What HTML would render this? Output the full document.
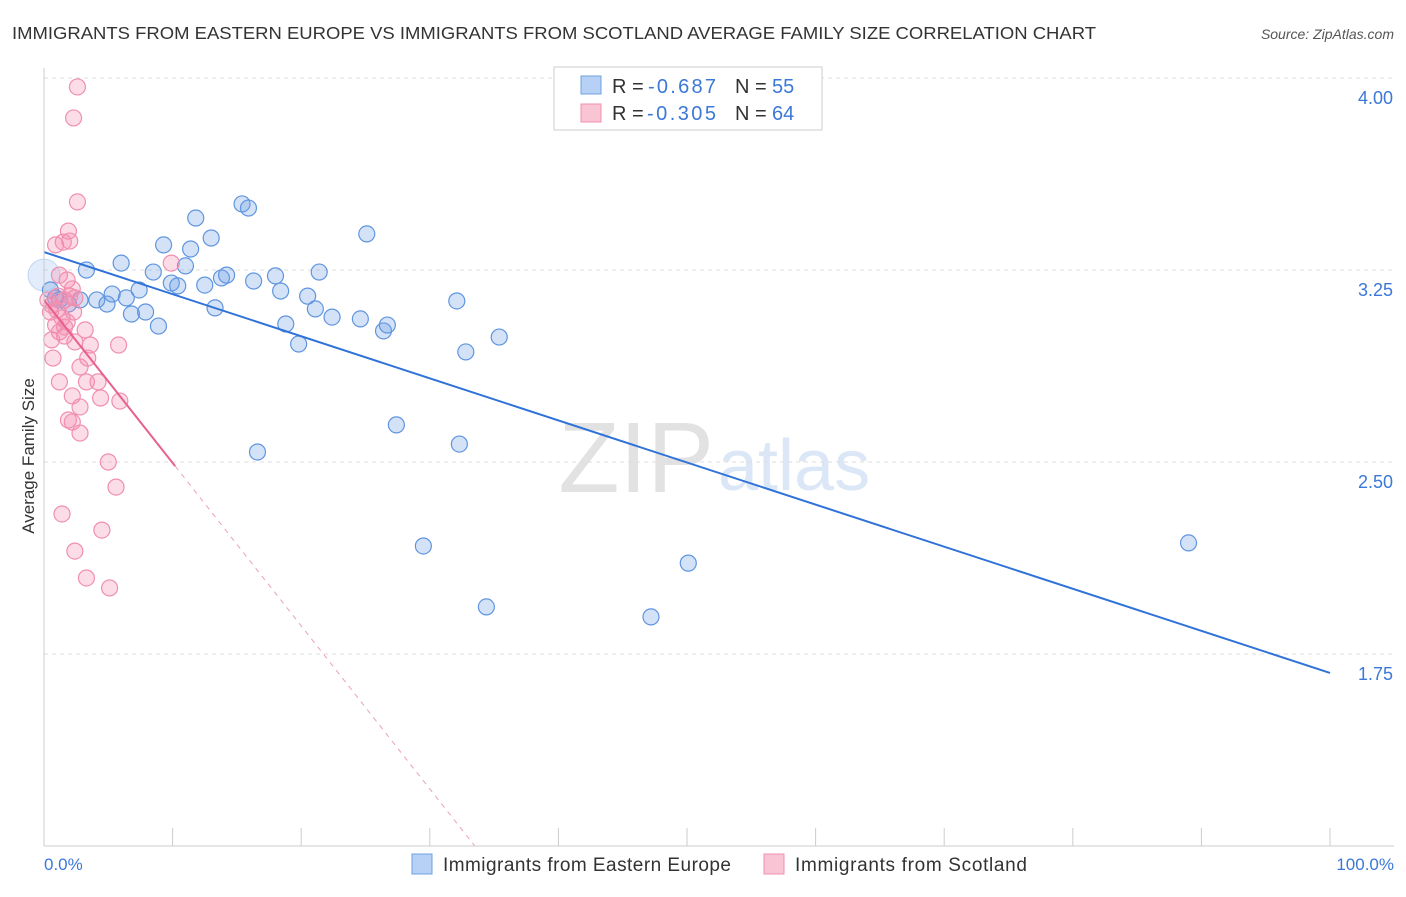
<!DOCTYPE html>
<html><head><meta charset="utf-8"><style>
body{margin:0;background:#fff;font-family:"Liberation Sans",sans-serif;}
svg text{font-family:"Liberation Sans",sans-serif;}
</style></head><body>
<svg id="c" width="1406" height="892">
<text x="12" y="39" font-size="17.5" fill="#333" textLength="1084" lengthAdjust="spacingAndGlyphs">IMMIGRANTS FROM EASTERN EUROPE VS IMMIGRANTS FROM SCOTLAND AVERAGE FAMILY SIZE CORRELATION CHART</text>
<text x="1394" y="39" font-size="14" fill="#555" font-style="italic" text-anchor="end">Source: ZipAtlas.com</text>
<text x="34" y="456" font-size="17" fill="#333" text-anchor="middle" transform="rotate(-90 34 456)">Average Family Size</text>
<text x="714" y="492" font-size="100" fill="#e2e2e2" text-anchor="end" font-family="Liberation Serif">ZIP</text>
<text x="718" y="490" font-size="72" fill="#dbe7f6">atlas</text>
<g id="grid"></g><g id="pts"></g><g id="lines"></g>
<line x1="44" y1="68" x2="44" y2="846" stroke="#ccc"/>
<line x1="44" y1="846" x2="1394" y2="846" stroke="#ccc"/>
<text x="44" y="870" font-size="17" fill="#3b78d8">0.0%</text>
<text x="1394" y="870" font-size="17" fill="#3b78d8" text-anchor="end">100.0%</text>
<g>
<rect x="554" y="67" width="268" height="63" fill="#fff" stroke="#ccc"/>
<rect x="581" y="76" width="20" height="18" fill="#b7d0f5" stroke="#6fa0e0"/>
<rect x="581" y="104" width="20" height="18" fill="#f9c5d5" stroke="#f08fb0"/>
<text x="612" y="93" font-size="20" fill="#333">R =</text>
<text x="648" y="93" font-size="20" fill="#3b78d8" textLength="68">-0.687</text>
<text x="735" y="93" font-size="20" fill="#333">N =</text>
<text x="772" y="93" font-size="20" fill="#3b78d8">55</text>
<text x="612" y="120" font-size="20" fill="#333">R =</text>
<text x="647" y="120" font-size="20" fill="#3b78d8" textLength="69">-0.305</text>
<text x="735" y="120" font-size="20" fill="#333">N =</text>
<text x="772" y="120" font-size="20" fill="#3b78d8">64</text>
</g>
<g>
<rect x="412" y="854" width="20" height="20" fill="#b7d0f5" stroke="#6fa0e0"/>
<text x="443" y="871" font-size="19" fill="#333" textLength="288">Immigrants from Eastern Europe</text>
<rect x="764" y="854" width="20" height="20" fill="#f9c5d5" stroke="#f08fb0"/>
<text x="795" y="871" font-size="19" fill="#333" textLength="232">Immigrants from Scotland</text>
</g>
</svg>
<script>
const yTicks=[4.00,3.25,2.50,1.75];
const blueX=[0.5,0.9,1.2,1.9,2.8,3.3,4.1,4.9,5.3,6.0,6.4,6.8,7.4,7.9,8.5,8.9,9.3,9.9,10.4,11.0,11.4,11.8,12.5,13.0,13.3,13.8,14.2,15.4,15.9,16.3,16.6,18.0,18.4,18.8,19.8,20.5,21.1,21.4,22.4,24.6,25.1,26.4,26.7,27.4,29.5,32.1,32.3,32.8,34.4,35.4,47.2,50.1,89.0];
const blueY=[3.172,3.141,3.133,3.117,3.133,3.25,3.133,3.117,3.156,3.277,3.141,3.078,3.172,3.086,3.242,3.031,3.348,3.199,3.188,3.266,3.332,3.453,3.191,3.375,3.102,3.219,3.230,3.508,3.492,3.207,2.539,3.227,3.168,3.039,2.961,3.148,3.098,3.242,3.066,3.059,3.391,3.012,3.035,2.645,2.172,3.129,2.570,2.930,1.934,2.988,1.895,2.105,2.184];
const pinkX=[2.6,2.3,2.6,1.9,2.0,1.5,0.9,9.9,1.8,1.2,2.2,2.4,0.6,1.0,1.4,1.8,0.5,0.9,1.2,0.6,1.6,2.4,3.2,3.4,5.8,0.7,2.8,1.2,3.3,4.2,2.2,4.4,5.9,2.8,1.9,2.2,2.8,5.0,5.6,1.4,4.5,2.4,3.3,5.1,0.3,1.1,1.6,2.0,2.3,3.6,1.6];
const pinkY=[3.965,3.844,3.516,3.402,3.363,3.359,3.348,3.277,3.211,3.230,3.176,3.141,3.113,3.094,3.063,3.047,3.086,3.035,3.008,2.977,2.992,2.969,3.016,2.906,2.957,2.906,2.871,2.813,2.813,2.813,2.758,2.750,2.738,2.715,2.664,2.656,2.613,2.500,2.402,2.297,2.234,2.152,2.047,2.008,3.133,3.148,3.133,3.148,3.086,2.957,3.027];
const blueTrend=[0,3.32,100,1.676];
const pinkTrend=[0,3.133,10.2,2.484,33.5,1.0];
const NS='http://www.w3.org/2000/svg';
const xs=v=>44+v*12.86, ys=v=>78+(4-v)*256;
function mk(t,a,p){const e=document.createElementNS(NS,t);for(const k in a)e.setAttribute(k,a[k]);p.appendChild(e);return e;}
const g=document.getElementById('grid');
yTicks.forEach(t=>{
 const l=mk('line',{x1:44,x2:1394,y1:ys(t),y2:ys(t),stroke:'#ddd','stroke-dasharray':'4,4'},g);
 
 
 const tx=mk('text',{x:1393,y:ys(t)+26,'font-size':18,fill:'#3b78d8','text-anchor':'end'},g);
 tx.textContent=t.toFixed(2);
 
 
});
for(let i=1;i<=10;i++){
 const l=mk('line',{x1:xs(i*10),x2:xs(i*10),y1:828,y2:846,stroke:'#ccc'},g);
 
 
}
const p=document.getElementById('pts');
const big=mk('circle',{cx:xs(0),cy:ys(3.23),r:16,fill:'rgba(110,160,230,0.2)',stroke:'rgba(90,140,220,0.3)'},p);


blueX.forEach((x,i)=>{
 const c=mk('circle',{cx:xs(x),cy:ys(blueY[i]),r:8,fill:'rgba(110,160,230,0.3)',stroke:'#5f95e0','stroke-width':1.2},p);
 
 
});
pinkX.forEach((x,i)=>{
 const c=mk('circle',{cx:xs(x),cy:ys(pinkY[i]),r:8,fill:'rgba(245,140,175,0.3)',stroke:'#f08fb0','stroke-width':1.2},p);
 
 
});
const L=document.getElementById('lines');
const bl=mk('line',{x1:xs(blueTrend[0]),y1:ys(blueTrend[1]),x2:xs(blueTrend[2]),y2:ys(blueTrend[3]),stroke:'#2f72d8','stroke-width':2},L);


const pl=mk('line',{x1:xs(pinkTrend[0]),y1:ys(pinkTrend[1]),x2:xs(pinkTrend[2]),y2:ys(pinkTrend[3]),stroke:'#e8608e','stroke-width':2},L);


const pd=mk('line',{x1:xs(pinkTrend[2]),y1:ys(pinkTrend[3]),x2:xs(pinkTrend[4]),y2:ys(pinkTrend[5]),stroke:'#eaa0b8','stroke-width':1,'stroke-dasharray':'5,5'},L);


</script>
</body></html>
